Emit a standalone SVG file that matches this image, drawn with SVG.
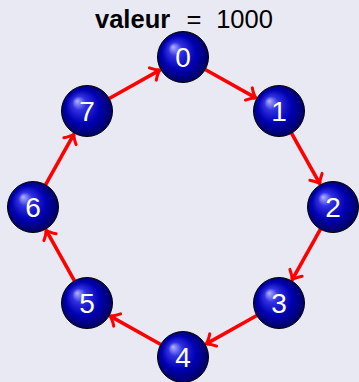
<svg xmlns="http://www.w3.org/2000/svg" width="359" height="382" viewBox="0 0 359 382">
<defs>
<radialGradient id="ball" cx="0.5" cy="0.5" r="0.55" fx="0.3" fy="0.3">
<stop offset="0" stop-color="#b4b4ff"/>
<stop offset="0.25" stop-color="#3030e0"/>
<stop offset="0.6" stop-color="#0000b4"/>
<stop offset="1" stop-color="#000050"/>
</radialGradient>
<marker id="arr" markerUnits="userSpaceOnUse" markerWidth="24" markerHeight="24" viewBox="-12 -12 24 24" refX="0" refY="0" orient="auto">
<path d="M -8 -7 Q -3.5 -1.8 0 0 Q -3.5 1.8 -8 7" fill="none" stroke="#ff0000" stroke-width="3" stroke-linecap="round" stroke-linejoin="round"/>
</marker>
</defs>
<style>
.node circle{fill:url(#ball);stroke:#000;stroke-width:1}
.node text{fill:#fff;font-family:"Liberation Sans",Arial,sans-serif;font-size:28px;text-anchor:middle}
.edge{stroke:#ff0000;stroke-width:3.6;fill:none;marker-end:url(#arr)}
.title{font-family:"Liberation Sans",Arial,sans-serif;font-size:25.5px;fill:#000}
</style>
<rect width="359" height="382" fill="#e9e9f3"/>
<g id="title" class="title">
<text x="95" y="28" font-weight="bold">valeur</text>
<text x="194" y="28" text-anchor="middle">=</text>
<text x="244.5" y="28" text-anchor="middle">1000</text>
</g>
<g id="connectors">
<line class="edge" x1="205.2" y1="69.5" x2="255.8" y2="97.9"/>
<line class="edge" x1="291.5" y1="133.2" x2="319.9" y2="183.8"/>
<line class="edge" x1="320.5" y1="229.2" x2="292.1" y2="279.8"/>
<line class="edge" x1="256.8" y1="315.5" x2="206.2" y2="343.9"/>
<line class="edge" x1="160.8" y1="344.5" x2="110.2" y2="316.1"/>
<line class="edge" x1="74.5" y1="280.8" x2="46.1" y2="230.2"/>
<line class="edge" x1="45.5" y1="184.8" x2="73.9" y2="134.2"/>
<line class="edge" x1="109.2" y1="98.5" x2="159.8" y2="70.1"/>
</g>
<g id="n0" class="node"><circle cx="183" cy="57" r="25.5"/><text x="183" y="67">0</text></g>
<g id="n1" class="node"><circle cx="279" cy="111" r="25.5"/><text x="279" y="121">1</text></g>
<g id="n2" class="node"><circle cx="333" cy="207" r="25.5"/><text x="333" y="217">2</text></g>
<g id="n3" class="node"><circle cx="279" cy="303" r="25.5"/><text x="279" y="313">3</text></g>
<g id="n4" class="node"><circle cx="183" cy="357" r="25.5"/><text x="183" y="367">4</text></g>
<g id="n5" class="node"><circle cx="87" cy="303" r="25.5"/><text x="87" y="313">5</text></g>
<g id="n6" class="node"><circle cx="33" cy="207" r="25.5"/><text x="33" y="217">6</text></g>
<g id="n7" class="node"><circle cx="87" cy="111" r="25.5"/><text x="87" y="121">7</text></g>
</svg>
